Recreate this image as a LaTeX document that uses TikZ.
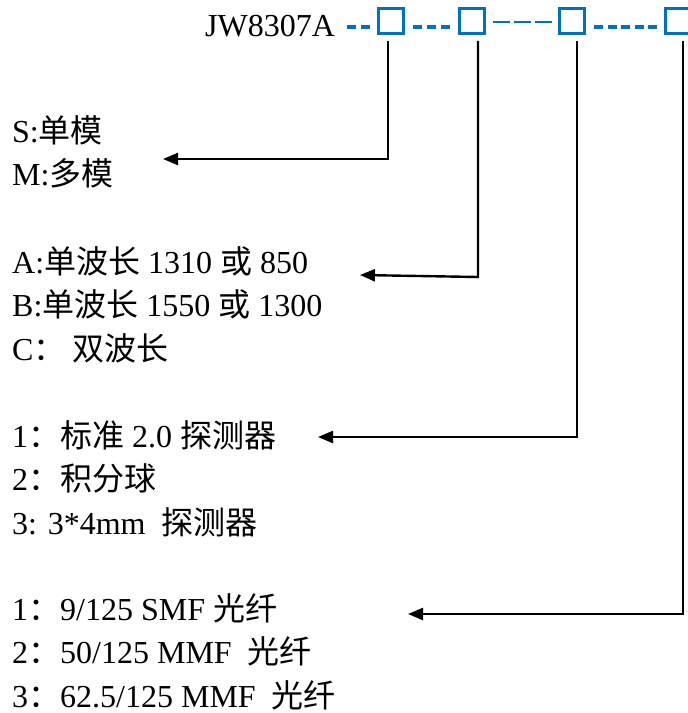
\documentclass[tikz,border=0pt]{standalone}
\usepackage{fontspec}
\setmainfont{Liberation Serif}
\newfontfamily\cjk{Noto Sans CJK SC}
\usetikzlibrary{arrows.meta}
\definecolor{codeblue}{RGB}{0,112,192}

\begin{document}
\begin{tikzpicture}[x=1pt, y=-1pt, >={Triangle[length=15pt,width=12pt]},
  lbl/.style={anchor=base west, inner sep=0pt, font=\fontsize{32}{38}\selectfont},
  sq/.style={draw=codeblue, line width=2.8pt, minimum size=25pt, inner sep=0pt},
  thickdash/.style={codeblue, line width=4pt, dash pattern=on 9pt off 5pt},
  thindash/.style={codeblue, line width=2pt, dash pattern=on 17pt off 4pt},
  conn/.style={->, line width=2.4pt}]
\useasboundingbox (0,0) rectangle (688,713);

% order code with its four blank fields
\node[lbl] (code) at (205,36) {JW8307A};
\foreach \n/\x in {1/391, 2/472, 3/572, 4/678}
  \node[sq] (s\n) at (\x,21) {};

\draw[thickdash] (347,27) -- (370,27);
\draw[thickdash] (413,27) -- (450,27);
\draw[thindash] (493,22) -- (552,22);
\draw[thickdash, dash pattern=on 9pt off 4.5pt] (594,27) -- (657,27);

% field 1: mode
\node[lbl] (mS) at (12,142) {S:{\cjk 单模}};
\node[lbl] (mM) at (12,185.5) {M:{\cjk 多模}};

% field 2: wavelength
\node[lbl] (wA) at (12,273) {A:{\cjk 单波长} 1310 {\cjk 或} 850};
\node[lbl] (wB) at (12,316.5) {B:{\cjk 单波长} 1550 {\cjk 或} 1300};
\node[lbl] (wC) at (12,360) {C{\cjk ：~双波长}};

% field 3: detector
\node[lbl] (d1) at (12,447) {1{\cjk ：标准} 2.0 {\cjk 探测器}};
\node[lbl] (d2) at (12,490.5) {2{\cjk ：积分球}};
\node[lbl] (d3) at (12,534) {3: 3*4mm\ \ {\cjk 探测器}};

% field 4: fibre
\node[lbl] (f1) at (12,620) {1{\cjk ：}9/125 SMF {\cjk 光纤}};
\node[lbl] (f2) at (12,663.5) {2{\cjk ：}50/125 MMF\ \ {\cjk 光纤}};
\node[lbl] (f3) at (12,707) {3{\cjk ：}62.5/125 MMF\ \ {\cjk 光纤}};

% connectors from the fields down to the option lists
\coordinate (t1) at (163,159);
\coordinate (k2) at (478,277);
\coordinate (t2) at (360,275);
\coordinate (t3) at (318,437);
\coordinate (t4) at (408,614);

\draw[conn] ([xshift=-3pt,yshift=-6pt]s1.south) |- (t1);
\draw[conn] ([xshift=6pt,yshift=-6pt]s2.south) -- (k2) -- (t2);
\draw[conn] ([xshift=5pt,yshift=-6pt]s3.south) |- (t3);
\draw[conn] ([xshift=5pt,yshift=-6pt]s4.south) |- (t4);

\end{tikzpicture}
\end{document}
